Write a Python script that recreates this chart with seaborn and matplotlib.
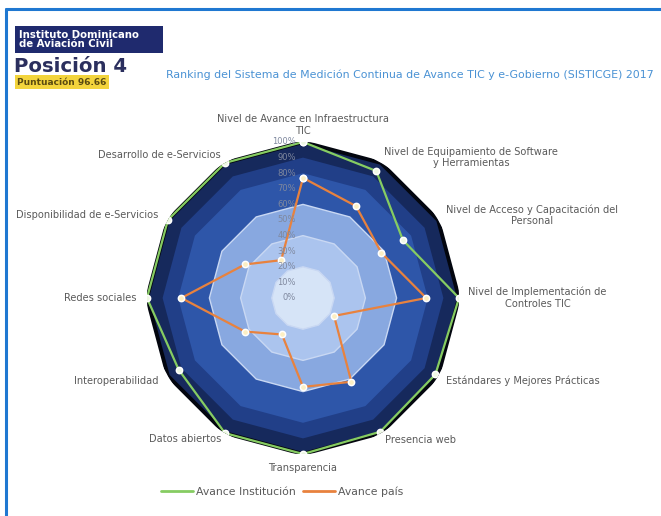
import numpy as np
import pandas as pd
import matplotlib
matplotlib.use("Agg")
import matplotlib.pyplot as plt
import matplotlib.transforms as mtransforms
from matplotlib.lines import Line2D
from matplotlib.patches import Rectangle
import seaborn as sns

# ---------------- data ----------------
categories = [
    "Nivel de Avance en Infraestructura\nTIC",
    "Nivel de Equipamiento de Software\ny Herramientas",
    "Nivel de Acceso y Capacitación del\nPersonal",
    "Nivel de Implementación de\nControles TIC",
    "Estándares y Mejores Prácticas",
    "Presencia web",
    "Transparencia",
    "Datos abiertos",
    "Interoperabilidad",
    "Redes sociales",
    "Disponibilidad de e-Servicios",
    "Desarrollo de e-Servicios",
]
avance_institucion = [100, 94, 74, 100, 98, 99, 100, 100, 92, 100, 100, 100]
avance_pais = [77, 68, 58, 79, 23, 62, 57, 27, 43, 78, 43, 28]
series_names = ["Avance Institución", "Avance país"]
band_levels = [100, 90, 80, 60, 40, 20]
radial_ticks = [0, 10, 20, 30, 40, 50, 60, 70, 80, 90, 100]
title = "Ranking del Sistema de Medición Continua de Avance TIC y e-Gobierno (SISTICGE) 2017"
institucion = "Instituto Dominicano\nde Aviación Civil"
posicion = "Posición 4"
puntuacion = "Puntuación 96.66"

# ---------------- styling ----------------
sns.set_theme(style="white")
plt.rcParams["font.family"] = ["DejaVu Sans"]

W, H = 661, 516
fig = plt.figure(figsize=(W / 100, H / 100), dpi=100)
fig.patch.set_facecolor("white")

band_colors = ["#16295c", "#213f88", "#2e56a9", "#88a8e0", "#abc4ee", "#d6e4f7"]
green = "#86cc62"
orange = "#e8823e"

n = len(categories)
theta = np.arange(n) * 2 * np.pi / n
theta_c = np.append(theta, theta[0])

cx, cy, R = 303, 298, 156
ax = fig.add_axes([(cx - R) / W, (H - cy - R) / H, 2 * R / W, 2 * R / H],
                  projection="polar")
ax.set_theta_zero_location("N")
ax.set_theta_direction(-1)
ax.set_ylim(0, 100)
ax.set_facecolor("none")
ax.grid(False)
ax.spines["polar"].set_visible(False)
ax.set_xticks([])
ax.set_yticks([])

# background bands
for i, (lvl, col) in enumerate(zip(band_levels, band_colors)):
    if i == 0:
        ax.fill(theta_c, [lvl] * (n + 1), facecolor=col, edgecolor="#03060f",
                linewidth=2.8, zorder=1)
    elif lvl <= 60:
        ax.fill(theta_c, [lvl] * (n + 1), facecolor=col, edgecolor="#c9d8f3",
                linewidth=1.0, zorder=1 + i)
    else:
        ax.fill(theta_c, [lvl] * (n + 1), facecolor=col, edgecolor="none",
                zorder=1 + i)

# data lines via seaborn
rows = []
for name, vals in zip(series_names, [avance_institucion, avance_pais]):
    v = list(vals) + [vals[0]]
    for t, r in zip(theta_c, v):
        rows.append({"theta": t, "valor": r, "serie": name})
df = pd.DataFrame(rows)

sns.lineplot(data=df, x="theta", y="valor", hue="serie", sort=False,
             estimator=None, palette=[green, orange], linewidth=1.6,
             marker="o", markersize=4.5, markeredgewidth=1.1,
             legend=False, ax=ax, zorder=20)
for line, fc in zip(ax.get_lines(), ["#eef8e4", "#fcefc4"]):
    line.set_markerfacecolor(fc)
ax.set_xlabel("")
ax.set_ylabel("")
ax.set_ylim(0, 100)

# radial tick labels
off = mtransforms.offset_copy(ax.transData, fig=fig, x=-7, y=0, units="dots")
for v in radial_ticks:
    ax.text(0, v, f"{v}%", transform=off, ha="right", va="center",
            fontsize=6.0, color="#7f889e", zorder=30)

# category labels
label_specs = [
    (104, "center", "bottom"),
    (104, "left", "center"),
    (106, "left", "center"),
    (106, "left", "center"),
    (106, "left", "center"),
    (105, "left", "center"),
    (106, "center", "top"),
    (104.5, "right", "center"),
    (107, "right", "center"),
    (107, "right", "center"),
    (107, "right", "center"),
    (105.5, "right", "center"),
]
for t, lab, (r, ha, va) in zip(theta, categories, label_specs):
    ax.text(t, r, lab, ha=ha, va=va, ma="center", fontsize=7.1,
            color="#5a5a5a", linespacing=1.2)

# legend
handles = [Line2D([0], [0], color=green, lw=2.0),
           Line2D([0], [0], color=orange, lw=2.0)]
fig.legend(handles, series_names, loc="center", bbox_to_anchor=(282 / W, 1 - 492 / H),
           ncol=2, frameon=False, fontsize=7.8, handlelength=3.0,
           columnspacing=0.6, handletextpad=0.3, labelcolor="#5a5a5a")

# header
fig.add_artist(Rectangle((15 / W, 1 - 53 / H), 148 / W, 27 / H,
                         transform=fig.transFigure, facecolor="#1f2a6e",
                         edgecolor="none"))
fig.text(19 / W, 1 - 39.5 / H, institucion, ha="left", va="center",
         fontsize=7.3, fontweight="bold", color="white", linespacing=0.9)
fig.text(14 / W, 1 - 72 / H, posicion, ha="left", va="baseline",
         fontsize=14.2, fontweight="bold", color="#2b2f5e")
fig.text(17 / W, 1 - 82 / H, puntuacion, ha="left", va="center",
         fontsize=6.5, fontweight="bold", color="#5a4a10",
         bbox=dict(boxstyle="square,pad=0.25", facecolor="#f3d43c",
                   edgecolor="none"))
fig.text(166 / W, 1 - 75 / H, title, ha="left", va="center",
         fontsize=7.95, color="#4a92d4")

# blue frame (top & left)
fig.add_artist(Line2D([6 / W, 1], [1 - 9 / H, 1 - 9 / H], transform=fig.transFigure,
                      color="#1f78d1", lw=2.2))
fig.add_artist(Line2D([6 / W, 6 / W], [0, 1 - 9 / H], transform=fig.transFigure,
                      color="#1f78d1", lw=2.2))

fig.savefig("out.png", dpi=100)
